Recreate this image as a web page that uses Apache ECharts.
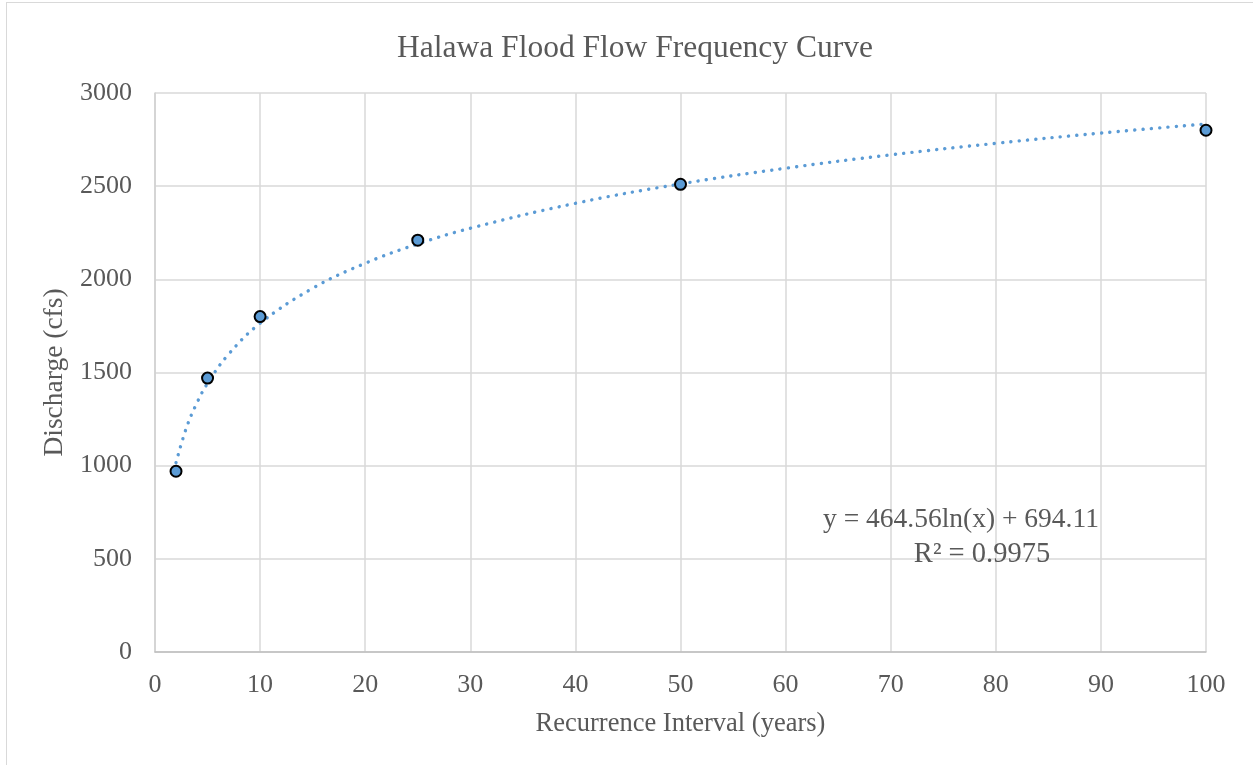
<!DOCTYPE html>
<html>
<head>
<meta charset="utf-8">
<script src="https://cdn.jsdelivr.net/npm/echarts@6/dist/echarts.min.js"></script>
<style>
  html, body { margin: 0; padding: 0; background: #fff; overflow: hidden; }
  #frame { position: absolute; left: 6px; top: 2px; width: 1300px; height: 800px; border: 1px solid #d9d9d9; box-sizing: border-box; }
  #main { position: absolute; left: 0; top: 0; width: 1253px; height: 765px; }
</style>
</head>
<body>
<div id="frame"></div>
<div id="main"></div>
<script>
// 观测点
var years = [2, 5, 10, 25, 50, 100];
var discharge = [970, 1470, 1800, 2210, 2510, 2800];
// 趋势线
var trendYears = [2, 3, 4, 5, 7, 10, 15, 20, 25, 30, 40, 50, 60, 70, 80, 90, 100];
var trendValues = [1016, 1205, 1338, 1442, 1598, 1764, 1952, 2086, 2190, 2274, 2408, 2512, 2596, 2668, 2730, 2785, 2834];
var xTicks = [0, 10, 20, 30, 40, 50, 60, 70, 80, 90, 100];
var yTicks = [0, 500, 1000, 1500, 2000, 2500, 3000];

var myChart = echarts.init(document.getElementById('main'), null, { renderer: 'canvas' });
var font = '"Liberation Serif", "Times New Roman", serif';
var textColor = '#595959';

function pair(xs, ys) {
    return xs.map(function (x, i) { return [x, ys[i]]; });
}

var option = {
    backgroundColor: 'transparent',
    animation: false,
    title: {
        text: 'Halawa Flood Flow Frequency Curve',
        left: 630,
        top: 28,
        textAlign: 'center',
        textStyle: { color: textColor, fontFamily: font, fontSize: 31.5, fontWeight: 400 }
    },
    grid: { left: 155, top: 93, width: 1051, height: 559 },
    xAxis: {
        type: 'value',
        min: xTicks[0],
        max: xTicks[xTicks.length - 1],
        interval: 10,
        name: 'Recurrence Interval (years)',
        nameLocation: 'middle',
        nameGap: 59,
        nameTextStyle: { color: textColor, fontFamily: font, fontSize: 26.5 },
        axisLine: { show: true, lineStyle: { color: '#bfbfbf', width: 1.5 } },
        axisTick: { show: false },
        axisLabel: { color: textColor, fontFamily: font, fontSize: 26, margin: 20 },
        splitLine: { show: true, lineStyle: { color: '#d9d9d9', width: 1.5 } }
    },
    yAxis: {
        type: 'value',
        min: yTicks[0],
        max: yTicks[yTicks.length - 1],
        interval: 500,
        name: 'Discharge (cfs)',
        nameLocation: 'middle',
        nameGap: 84,
        nameTextStyle: { color: textColor, fontFamily: font, fontSize: 27.5 },
        axisLine: { show: true, lineStyle: { color: '#d0d0d0', width: 1.5 } },
        axisTick: { show: false },
        axisLabel: {
            color: textColor, fontFamily: font, fontSize: 26, margin: 23,
            formatter: function (v) { return String(v); }
        },
        splitLine: { show: true, lineStyle: { color: '#d9d9d9', width: 1.5 } }
    },
    series: [{
        name: 'trend',
        type: 'line',
        data: pair(trendYears, trendValues),
        smooth: 0.4,
        showSymbol: false,
        lineStyle: { color: '#5b9bd5', width: 3.4, type: [0.1, 8.2], cap: 'round' },
        z: 2
    }, {
        name: 'discharge',
        type: 'scatter',
        data: pair(years, discharge),
        symbol: 'circle',
        symbolSize: 11,
        itemStyle: { color: '#5b9bd5', borderColor: '#000', borderWidth: 2, opacity: 1 },
        z: 3
    }],
    graphic: [{
        type: 'text',
        x: 961,
        y: 520,
        z: 100,
        style: { text: 'y = 464.56ln(x) + 694.11', fill: textColor, font: '27.5px ' + font, align: 'center', verticalAlign: 'middle' }
    }, {
        type: 'text',
        x: 982,
        y: 555,
        z: 100,
        style: { text: 'R² = 0.9975', fill: textColor, font: '28.5px ' + font, align: 'center', verticalAlign: 'middle' }
    }]
};
myChart.setOption(option);
</script>
</body>
</html>
